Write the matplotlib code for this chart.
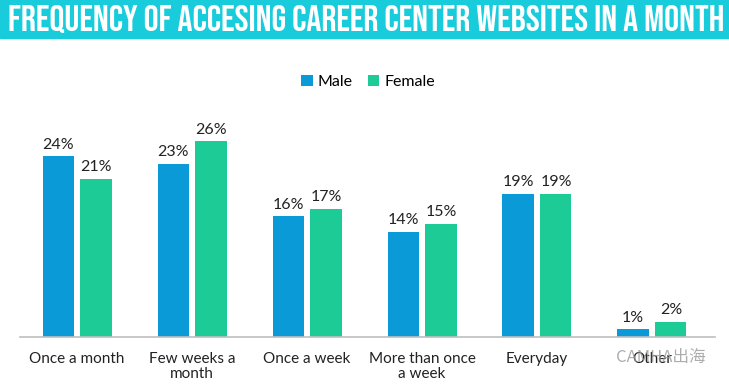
import numpy as np
import matplotlib.pyplot as plt
from matplotlib.patches import Rectangle

# data
categories = ['Once a month', 'Few weeks a\nmonth', 'Once a week',
              'More than once\na week', 'Everyday', 'Other']
male = [24, 23, 16, 14, 19, 1]
female = [21, 26, 17, 15, 19, 2]

blue = '#0A9AD8'
green = '#1CCB96'

fig = plt.figure(figsize=(7.29, 3.87), dpi=100)

# title banner
fig.patches.append(Rectangle((0, 1 - 38 / 387), 1, 38 / 387, transform=fig.transFigure,
                             color='#19CCDC', zorder=0))
fig.text(366 / 729, 1 - 19 / 387, 'FREQUENCY OF ACCESING CAREER CENTER WEBSITES IN A MONTH',
         ha='center', va='center', color='white', fontsize=26.9,
         family=['Bebas Neue', 'DejaVu Sans'])

ax = fig.add_axes([20 / 729, 50 / 387, 695 / 729, 226 / 387])
x = np.arange(len(categories))
w = 0.27
off = 0.165
b1 = ax.bar(x - off, male, w, color=blue, label='Male')
b2 = ax.bar(x + off, female, w, color=green, label='Female')

for bars, vals in ((b1, male), (b2, female)):
    for r, v in zip(bars, vals):
        ax.text(r.get_x() + r.get_width() / 2, v + 0.6, f'{v}%', ha='center', va='bottom',
                fontsize=11.5, family='Lato', color='#222222')

ax.set_xlim(-0.496, 5.548)
ax.set_ylim(0, 30)
ax.set_yticks([])
ax.set_xticks(x)
ax.set_xticklabels(categories, fontsize=11, family='Lato', color='#222222', linespacing=1.1)
ax.tick_params(axis='x', length=0, pad=11)
for s in ['top', 'right', 'left']:
    ax.spines[s].set_visible(False)
ax.spines['bottom'].set_color('#BFBFBF')
ax.spines['bottom'].set_linewidth(1.2)

leg = fig.legend(handles=[b1, b2], labels=['Male', 'Female'], loc='center',
                 bbox_to_anchor=(0.505, 1 - 82 / 387), ncol=2, frameon=False,
                 prop={'family': 'Lato', 'size': 11.5}, handlelength=0.7, handleheight=0.7,
                 handletextpad=0.3, columnspacing=1.0)

# watermark
fig.text(616 / 729, 1 - 357 / 387, 'CAMHA出海', ha='left', va='center', fontsize=12,
         color='#999999', alpha=0.8, family=['Noto Sans CJK SC', 'DejaVu Sans'])

fig.savefig('out.png', dpi=100)
